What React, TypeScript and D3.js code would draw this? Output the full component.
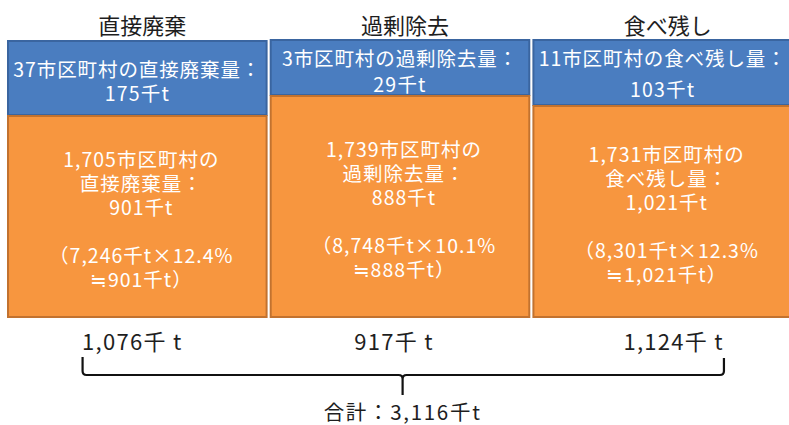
import React from "react";
import * as d3 from "d3";

// ---- data ----
const categories = ["直接廃棄", "過剰除去", "食べ残し"];
const amountLabels = ["直接廃棄量", "過剰除去量", "食べ残し量"];
const blueMunicipalities = [37, 3, 11];
const blueAmounts = [175, 29, 103];
const orangeMunicipalities = [1705, 1739, 1731];
const orangeAmounts = [901, 888, 1021];
const baseAmounts = [7246, 8748, 8301];
const rates = [12.4, 10.1, 12.3];
const totals = [1076, 917, 1124];
const grandTotal = 3116;

// ---- layout ----
const W = 789;
const H = 425;
const boxTop = [41, 40, 40];
const splitY = [115, 95, 105];
const boxBottom = 317;
const blueLine1 = [67.5, 57, 57];
const blueGap = [24.5, 26, 31];
const orangeLineGap = 24;
const bottomLabelDx = [-5, -6, 11];

const FONT = "'Noto Sans CJK JP', 'Noto Sans', sans-serif";
const BLUE = "#4a7dc0";
const BLUE_EDGE = "#3a65a0";
const ORANGE = "#f7963f";
const ORANGE_EDGE = "#c2722f";

export default function App() {
  const fmt = d3.format(",");
  const x = d3
    .scaleBand<string>()
    .domain(categories)
    .range([7, 793])
    .paddingInner(0.008)
    .paddingOuter(0);
  const bw = x.bandwidth();

  const bracketLeft = (x(categories[0]) as number) + bw * 0.29;
  const bracketRight = (x(categories[2]) as number) + bw * 0.735;
  const bracketMid = (x(categories[1]) as number) + bw * 0.51;
  const by = 375;
  const p = d3.path();
  p.moveTo(bracketLeft, 357);
  p.lineTo(bracketLeft, by - 4);
  p.quadraticCurveTo(bracketLeft, by, bracketLeft + 4, by);
  p.lineTo(bracketMid - 4, by);
  p.quadraticCurveTo(bracketMid, by, bracketMid, by + 4);
  p.lineTo(bracketMid, 395);
  p.moveTo(bracketMid, by + 4);
  p.quadraticCurveTo(bracketMid, by, bracketMid + 4, by);
  p.lineTo(bracketRight - 4, by);
  p.quadraticCurveTo(bracketRight, by, bracketRight, by - 4);
  p.lineTo(bracketRight, 358);

  return (
    <svg
      width={W}
      height={H}
      style={{ position: "absolute", left: 0, top: 0, background: "#fff" }}
      fontFamily={FONT}
    >
      {categories.map((c, i) => {
        const x0 = x(c) as number;
        const cx = x0 + bw / 2;
        const orangeLines = [
          `${fmt(orangeMunicipalities[i])}市区町村の`,
          `${amountLabels[i]}：`,
          `${fmt(orangeAmounts[i])}千t`,
          "",
          `（${fmt(baseAmounts[i])}千t×${rates[i].toFixed(1)}%`,
          `≒${fmt(orangeAmounts[i])}千t）`,
        ];
        const oMid = (splitY[i] + boxBottom) / 2 + 2;
        const oStart = oMid - ((orangeLines.length - 1) * orangeLineGap) / 2;
        let pendingGap = 0;
        return (
          <g key={c}>
            <text
              x={cx + 5}
              y={24}
              textAnchor="middle"
              dominantBaseline="central"
              fontSize={22}
              fill="#1e1e1e"
            >
              {c}
            </text>
            <rect
              x={x0 + 1}
              y={boxTop[i]}
              width={bw - 2}
              height={splitY[i] - boxTop[i]}
              fill={BLUE}
              stroke={BLUE_EDGE}
              strokeWidth={2}
            />
            <rect
              x={x0 + 1}
              y={splitY[i] + 1}
              width={bw - 2}
              height={boxBottom - splitY[i] - 1}
              fill={ORANGE}
              stroke={ORANGE_EDGE}
              strokeWidth={2}
            />
            <text
              textAnchor="middle"
              dominantBaseline="central"
              fontSize={19.5}
              fill="#fff"
            >
              <tspan x={cx} y={blueLine1[i]} letterSpacing={0.9}>
                {`${blueMunicipalities[i]}市区町村の${amountLabels[i]}：`}
              </tspan>
              <tspan x={cx} y={blueLine1[i] + blueGap[i]} letterSpacing={1.2}>
                {`${blueAmounts[i]}千t`}
              </tspan>
            </text>
            <text
              textAnchor="middle"
              dominantBaseline="central"
              fontSize={19.5}
              letterSpacing={1}
              fill="#fff"
            >
              {orangeLines.map((t, j) =>
                t ? (
                  <tspan key={j} x={cx + 4} y={oStart + j * orangeLineGap}>
                    {t}
                  </tspan>
                ) : null
              )}
            </text>
            <text
              x={cx + bottomLabelDx[i]}
              y={340}
              textAnchor="middle"
              dominantBaseline="central"
              fontSize={22}
              letterSpacing={1.3}
              fill="#1e1e1e"
            >
              {`${fmt(totals[i])}千 t`}
            </text>
          </g>
        );
      })}
      <path d={p.toString()} fill="none" stroke="#111" strokeWidth={2.2} />
      <text
        x={bracketMid}
        y={411}
        textAnchor="middle"
        dominantBaseline="central"
        fontSize={20.5}
        letterSpacing={1.7}
        fill="#1e1e1e"
      >
        {`合計：${fmt(grandTotal)}千t`}
      </text>
    </svg>
  );
}
